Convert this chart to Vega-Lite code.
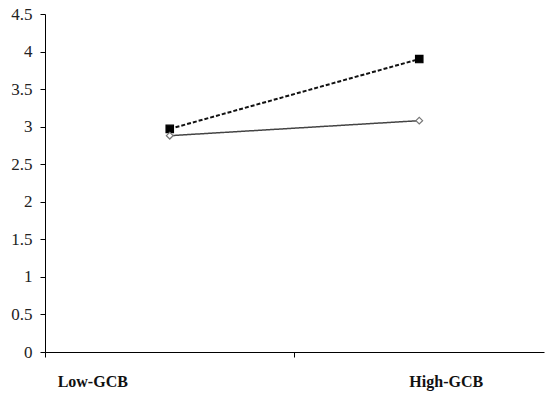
{
  "$schema": "https://vega.github.io/schema/vega-lite/v6.json",
  "autosize": "none",
  "width": 499,
  "height": 338,
  "padding": {"left": 45, "top": 14, "right": 6, "bottom": 45},
  "background": "white",
  "config": {"view": {"stroke": null}},
  "data": {"values": [
    {"group": "Low-GCB", "series": "A", "value": 2.97},
    {"group": "High-GCB", "series": "A", "value": 3.9},
    {"group": "Low-GCB", "series": "B", "value": 2.88},
    {"group": "High-GCB", "series": "B", "value": 3.08}
  ]},
  "encoding": {
    "x": {
      "field": "group", "type": "nominal", "sort": ["Low-GCB", "High-GCB"],
      "scale": {"type": "band", "paddingInner": 0, "paddingOuter": 0},
      "axis": {
        "title": null, "bandPosition": 0, "domainColor": "#000", "tickColor": "#000",
        "tickSize": 5, "labelAngle": 0, "labelFont": "Liberation Serif", "labelFontSize": 16,
        "labelFontWeight": "bold", "labelColor": "#111", "labelBaseline": "top", "labelPadding": 16,
        "labelAlign": "center",
        "labelOffset": {"condition": {"test": "datum.value == 'Low-GCB'", "value": -77}, "value": 27}
      }
    },
    "y": {
      "field": "value", "type": "quantitative",
      "scale": {"domain": [0, 4.5], "nice": false, "zero": true},
      "axis": {
        "title": null, "values": [0, 0.5, 1, 1.5, 2, 2.5, 3, 3.5, 4, 4.5], "format": ".1~f",
        "grid": false, "domainColor": "#000", "tickColor": "#000", "tickSize": 5,
        "labelFont": "Liberation Serif", "labelFontSize": 17, "labelColor": "#222", "labelPadding": 8
      }
    }
  },
  "layer": [
    {
      "mark": {"type": "line"},
      "encoding": {
        "detail": {"field": "series"},
        "color": {"field": "series", "type": "nominal", "scale": {"domain": ["A", "B"], "range": ["#111", "#444"]}, "legend": null},
        "strokeDash": {"field": "series", "type": "nominal", "scale": {"domain": ["A", "B"], "range": [[4, 2], [1, 0]]}, "legend": null},
        "strokeWidth": {"field": "series", "type": "nominal", "scale": {"domain": ["A", "B"], "range": [2, 1.5]}, "legend": null}
      }
    },
    {
      "mark": {"type": "point", "filled": false, "opacity": 1},
      "encoding": {
        "shape": {"field": "series", "type": "nominal", "scale": {"domain": ["A", "B"], "range": ["square", "diamond"]}, "legend": null},
        "fill": {"field": "series", "type": "nominal", "scale": {"domain": ["A", "B"], "range": ["#000", "#fff"]}, "legend": null},
        "stroke": {"field": "series", "type": "nominal", "scale": {"domain": ["A", "B"], "range": ["#000", "#777"]}, "legend": null},
        "size": {"field": "series", "type": "nominal", "scale": {"domain": ["A", "B"], "range": [55, 45]}, "legend": null},
        "strokeWidth": {"value": 1.2}
      }
    }
  ]
}
